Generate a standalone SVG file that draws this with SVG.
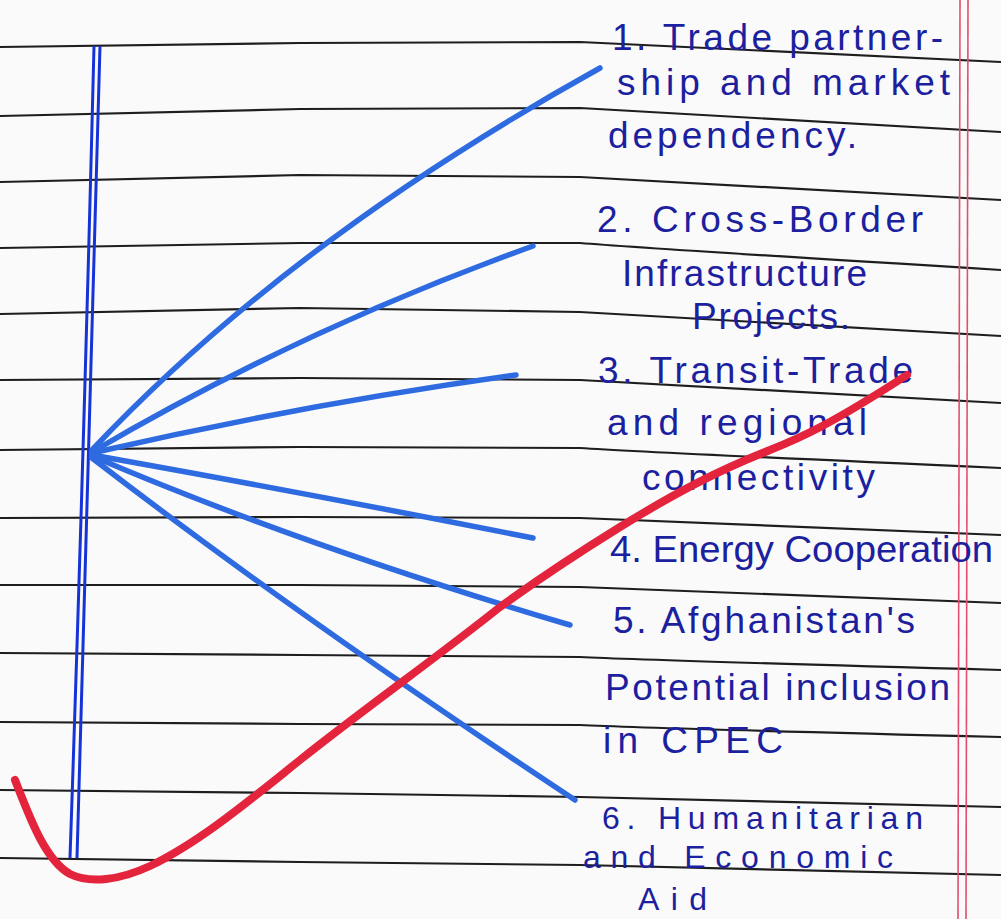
<svg xmlns="http://www.w3.org/2000/svg" width="1001" height="919" viewBox="0 0 1001 919">
<style>
.rule{fill:none;stroke:#1e1e1e;stroke-width:2.2}
.margin{fill:none;stroke:#1633d8;stroke-width:3}
.pink{fill:none;stroke:#e0506e;stroke-width:1.6}
.branch{fill:none;stroke:#2f6be0;stroke-width:5.5;stroke-linecap:round}
.ink{font-family:"Liberation Sans","DejaVu Sans",sans-serif;font-size:37px;fill:#1c1f9e}
.small{font-size:32px}
.tick{fill:none;stroke:#e3243c;stroke-width:8;stroke-linecap:round;stroke-linejoin:round}
</style>
<rect width="1001" height="919" fill="#fafafa"/>
<g id="paper">
<path class="rule" d="M0,47 L300,43 L580,42 Q640,44 1001,62"/>
<path class="rule" d="M0,116 L300,109 L580,108 Q640,112 1001,132"/>
<path class="rule" d="M0,182 L300,175 L580,177 Q640,181 1001,200"/>
<path class="rule" d="M0,248 L300,243 L580,243 Q640,248 1001,270"/>
<path class="rule" d="M0,314 L300,308 L580,312 Q640,316 1001,336"/>
<path class="rule" d="M0,380 L300,378 L580,380 Q640,384 1001,403"/>
<path class="rule" d="M0,450 L300,447 L580,448 Q640,452 1001,468"/>
<path class="rule" d="M0,518 L300,517 L580,518 Q640,521 1001,535"/>
<path class="rule" d="M0,585 L300,585 L580,587 Q640,590 1001,603"/>
<path class="rule" d="M0,653 L300,655 L580,657 Q640,660 1001,670"/>
<path class="rule" d="M0,722 L300,724 L580,725 Q640,728 1001,737"/>
<path class="rule" d="M0,790 L300,793 L580,797 Q640,799 1001,807"/>
<path class="rule" d="M0,858 L300,862 L580,865 Q640,867 1001,875"/>
<line class="pink" x1="960" y1="0" x2="958" y2="919"/>
<line class="pink" x1="968" y1="0" x2="966" y2="919"/>
</g>
<g id="hub">
<path class="margin" d="M94,46 Q84,450 70,858"/>
<path class="margin" d="M100,46 Q90,450 77,858"/>
</g>
<g id="connectors">
<path class="branch" d="M92,450 Q290,240 600,68" stroke="#1f5fe0"/>
<path class="branch" d="M92,452 Q300,330 533,246"/>
<path class="branch" d="M92,453 Q300,405 516,375" stroke="#3a74e0"/>
<path class="branch" d="M92,455 Q300,492 533,538" stroke="#3f78e0"/>
<path class="branch" d="M92,456 Q300,545 570,625" stroke="#4a80e2"/>
<path class="branch" d="M92,458 Q300,618 575,800" stroke="#5a8ae4"/>
</g>
<g id="item1">
<text class="ink" x="612" y="50" textLength="331" lengthAdjust="spacing">1. Trade partner-</text>
<text class="ink" x="617" y="95" textLength="333" lengthAdjust="spacing">ship and market</text>
<text class="ink" x="608" y="148" textLength="249" lengthAdjust="spacing">dependency.</text>
</g>
<g id="item2">
<text class="ink" x="597" y="232" textLength="326" lengthAdjust="spacing">2. Cross-Border</text>
<text class="ink" x="622" y="286" textLength="245" lengthAdjust="spacing">Infrastructure</text>
<text class="ink" x="692" y="329" textLength="158" lengthAdjust="spacing">Projects.</text>
</g>
<g id="item3">
<text class="ink" x="598" y="383" textLength="315" lengthAdjust="spacing">3. Transit-Trade</text>
<text class="ink" x="607" y="435" textLength="260" lengthAdjust="spacing">and regional</text>
<text class="ink" x="642" y="490" textLength="233" lengthAdjust="spacing">connectivity</text>
</g>
<g id="item4">
<text class="ink" x="610" y="562" textLength="383" lengthAdjust="spacingAndGlyphs">4. Energy Cooperation</text>
</g>
<g id="item5">
<text class="ink" x="613" y="633" textLength="302" lengthAdjust="spacing">5. Afghanistan's</text>
<text class="ink" x="605" y="700" textLength="345" lengthAdjust="spacing">Potential inclusion</text>
<text class="ink" x="603" y="753" textLength="180" lengthAdjust="spacing">in CPEC</text>
</g>
<g id="item6">
<text class="ink small" x="602" y="829" textLength="321" lengthAdjust="spacing">6. Humanitarian</text>
<text class="ink small" x="583" y="868" textLength="310" lengthAdjust="spacing">and Economic</text>
<text class="ink small" x="638" y="910" textLength="69" lengthAdjust="spacing">Aid</text>
</g>
<g id="check">
<path class="tick" d="M15,780 C30,818 45,860 70,874 C90,884 120,880 150,866 C200,842 250,800 300,760 C360,712 440,655 500,607 C540,578 570,558 620,527 C680,490 720,470 770,450 C800,438 830,425 907,375"/>
</g>
</svg>
